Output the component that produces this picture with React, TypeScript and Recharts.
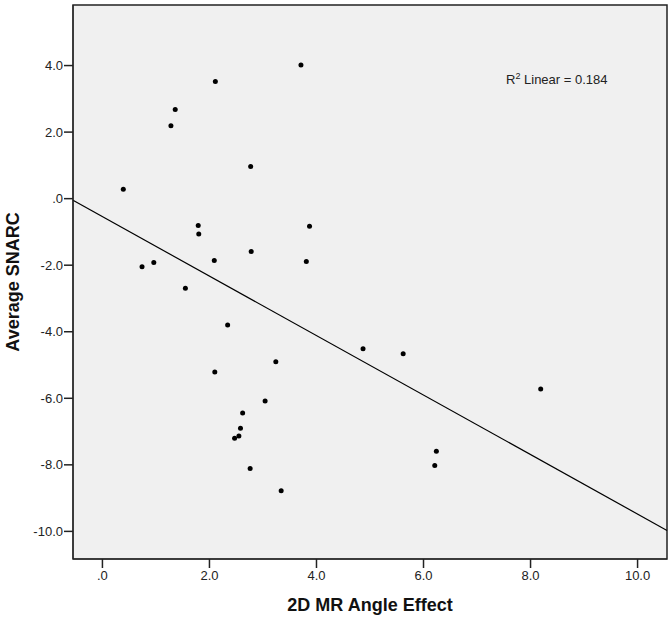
import React from 'react';
import { ScatterChart, Scatter, XAxis, YAxis, ReferenceArea, ReferenceLine } from 'recharts';

// values
const angleEffect = [
  3.71, 2.11, 1.36, 1.28, 2.77, 0.39, 1.79, 1.8, 3.87, 2.78,
  0.74, 0.96, 2.09, 3.81, 1.55, 2.34, 3.24, 2.1, 3.04, 2.62,
  2.58, 2.55, 2.47, 2.76, 3.34, 4.87, 5.62, 8.19, 6.24, 6.21,
];
const averageSnarc = [
  4.02, 3.52, 2.68, 2.19, 0.97, 0.28, -0.81, -1.06, -0.83, -1.59,
  -2.05, -1.92, -1.86, -1.89, -2.69, -3.8, -4.9, -5.21, -6.08, -6.44,
  -6.9, -7.13, -7.2, -8.11, -8.78, -4.51, -4.66, -5.72, -7.59, -8.02,
];
const xTicks = [0, 2, 4, 6, 8, 10];
const yTicks = [-10, -8, -6, -4, -2, 0, 2, 4];
const xDomain = [-0.55, 10.55];
const yDomain = [-10.83, 5.82];
const fitIntercept = -0.54;
const fitSlope = -0.894;
const rSquared = '0.184';

const points = angleEffect.map((x, i) => ({ x, y: averageSnarc[i] }));
const fitLine = xDomain.map((x) => ({ x, y: fitIntercept + fitSlope * x }));

const fmt = (v: number) => (v === 0 ? '.0' : v.toFixed(1));

const Dot = (props: any) => <circle cx={props.cx} cy={props.cy} r={2.5} fill="#000" />;

const font = 'Liberation Sans, Arial, sans-serif';
const tickStyle = { fontSize: 13, fill: '#222', fontFamily: font };

export default function App() {
  return (
    <div style={{ position: 'absolute', left: 0, top: 0, width: 672, height: 621, background: '#fff' }}>
      <ScatterChart width={672} height={621} margin={{ top: 5, right: 5, left: 0, bottom: 0 }}>
        <XAxis
          type="number"
          dataKey="x"
          domain={xDomain}
          ticks={xTicks}
          interval={0}
          tickFormatter={fmt}
          allowDataOverflow
          height={62}
          tick={tickStyle}
          tickSize={9}
          tickMargin={3}
          axisLine={{ stroke: '#222' }}
          tickLine={{ stroke: '#222', strokeWidth: 1.5 }}
          label={{
            value: '2D MR Angle Effect',
            position: 'insideBottom',
            offset: 10,
            style: { fontSize: 18, fontWeight: 'bold', fill: '#111', fontFamily: font },
          }}
        />
        <YAxis
          type="number"
          dataKey="y"
          domain={yDomain}
          ticks={yTicks}
          interval={0}
          tickFormatter={fmt}
          allowDataOverflow
          width={73}
          tick={tickStyle}
          tickSize={9}
          tickMargin={1}
          axisLine={{ stroke: '#222' }}
          tickLine={{ stroke: '#222', strokeWidth: 1.5 }}
          label={{
            value: 'Average SNARC',
            angle: -90,
            position: 'insideLeft',
            offset: 13,
            style: { textAnchor: 'middle', fontSize: 18, fontWeight: 'bold', fill: '#111', fontFamily: font },
          }}
        />
        <ReferenceArea
          x1={xDomain[0]}
          x2={xDomain[1]}
          y1={yDomain[0]}
          y2={yDomain[1]}
          fill="#f0f0f0"
          fillOpacity={1}
          stroke="#222"
          strokeWidth={1.5}
          ifOverflow="visible"
        />
        <ReferenceLine segment={fitLine} stroke="#000" strokeWidth={1.2} />
        <Scatter data={points} shape={<Dot />} isAnimationActive={false} />
      </ScatterChart>
      <svg width={672} height={621} style={{ position: 'absolute', left: 0, top: 0, pointerEvents: 'none' }}>
        <text x={506} y={84} fontSize={13} fill="#222" fontFamily={font}>
          R<tspan dy={-5} fontSize={9}>2</tspan>
          <tspan dy={5}> Linear = {rSquared}</tspan>
        </text>
      </svg>
    </div>
  );
}
